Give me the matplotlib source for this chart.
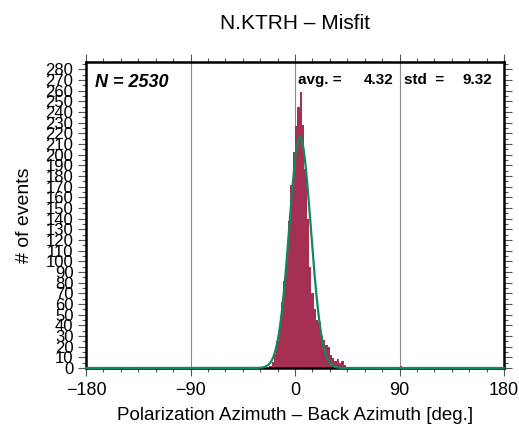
import numpy as np
import matplotlib
matplotlib.use("Agg")
import matplotlib.pyplot as plt
from matplotlib.ticker import MultipleLocator

plt.rcParams['font.family'] = ['Liberation Sans', 'DejaVu Sans']

# Histogram data (2-degree bins)
bin_left_edges = [-22, -20, -18, -16, -14, -12, -10, -8, -6, -4, -2,
                  0, 2, 4, 6, 8, 10, 12, 14, 16, 18, 20, 22, 24, 26, 28,
                  30, 32, 34, 36, 38, 40, 42, 44, 90]
bin_counts = [2, 6, 13, 25, 40, 62, 82, 108, 138, 172, 203,
              227, 245, 259, 228, 187, 140, 95, 70, 55, 45, 43, 30, 26, 22, 20,
              12, 9, 7, 8, 5, 7, 3, 1, 2]
bin_width = 2.0

n_events = 2530
avg = 4.32
std = 9.32

fig = plt.figure(figsize=(5.19, 4.30), dpi=100)
ax = fig.add_axes([86/519, 1 - 368/430, 418/519, 306/430])

for xv in [-90, 0, 90]:
    ax.axvline(xv, color='#8a8a8a', lw=0.8, zorder=0)

ax.bar(bin_left_edges, bin_counts, width=bin_width, align='edge',
       color='#A63053', edgecolor='none', zorder=2)

xg = np.linspace(-180, 180, 2000)
yg = n_events * bin_width / (np.sqrt(2 * np.pi) * std) * np.exp(-(xg - avg) ** 2 / (2 * std ** 2))
ax.plot(xg, yg, color='#12875C', lw=1.6, zorder=3, clip_on=False)

ax.set_xlim(-180, 180)
ax.set_ylim(0, 287)
ax.xaxis.set_major_locator(MultipleLocator(90))
ax.xaxis.set_minor_locator(MultipleLocator(15))
ax.yaxis.set_major_locator(MultipleLocator(10))
ax.yaxis.set_minor_locator(MultipleLocator(5))
ax.tick_params(axis='both', which='both', direction='out', top=True, right=True,
               color='#555555', width=0.8)
ax.tick_params(axis='both', which='major', length=6)
ax.tick_params(axis='both', which='minor', length=3)
ax.tick_params(axis='x', labelsize=13, pad=4)
ax.tick_params(axis='y', labelsize=12, pad=3)

for s in ax.spines.values():
    s.set_linewidth(1.8)
    s.set_color('black')

ax.set_title('N.KTRH \u2013 Misfit', fontsize=15, pad=24)
ax.set_xlabel('Polarization Azimuth \u2013 Back Azimuth [deg.]', fontsize=13.5, labelpad=6)
ax.set_ylabel('# of events', fontsize=14, labelpad=9)

ax.text(0.022, 0.962, 'N = %d' % n_events, transform=ax.transAxes, fontsize=13,
        fontweight='bold', fontstyle='italic', va='top', ha='left')
ax.text(0.508, 0.965, 'avg. =', transform=ax.transAxes, fontsize=11,
        fontweight='bold', va='top', ha='left')
ax.text(0.735, 0.965, '%.2f' % avg, transform=ax.transAxes, fontsize=11,
        fontweight='bold', va='top', ha='right')
ax.text(0.76, 0.965, 'std  =', transform=ax.transAxes, fontsize=11,
        fontweight='bold', va='top', ha='left')
ax.text(0.972, 0.965, '%.2f' % std, transform=ax.transAxes, fontsize=11,
        fontweight='bold', va='top', ha='right')

fig.savefig('out.png', dpi=100)
